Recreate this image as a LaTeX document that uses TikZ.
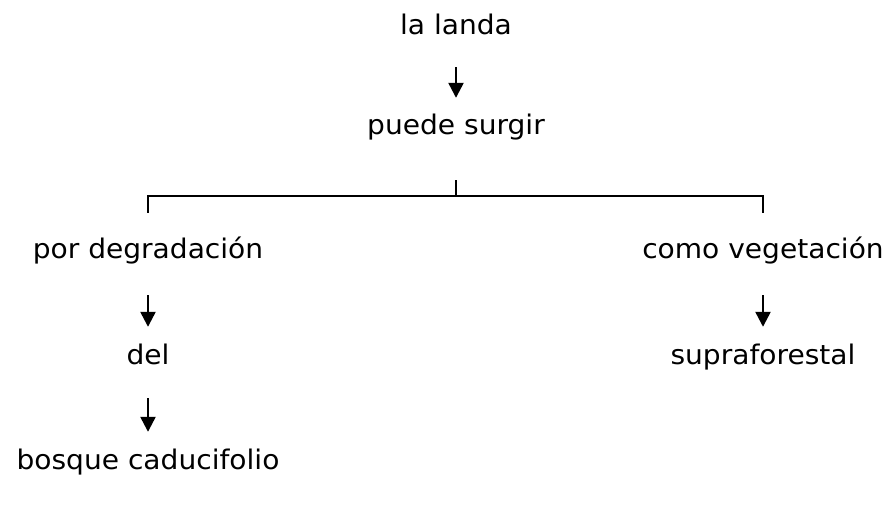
\documentclass[tikz,border=0pt]{standalone}
\usepackage{fontspec}
\setmainfont[FakeStretch=1.04]{DejaVu Sans}
\usetikzlibrary{arrows.meta,calc}
\begin{document}
\begin{tikzpicture}[x=1pt,y=-1pt,
  lbl/.style={inner sep=0pt,text height=20pt,text depth=6pt,font=\fontsize{27}{31}\selectfont},
  conn/.style={line width=2.4pt},
  arr/.style={conn,-{Triangle[width=15pt,length=15pt]}}]
\useasboundingbox (0,0) rectangle (890,505);
\node[lbl] (la) at (456,28) {la landa};
\node[lbl] (ps) at (456,128) {puede surgir};
\node[lbl] (pd) at (148,251) {por degradación};
\node[lbl] (de) at (148,357) {del};
\node[lbl] (bc) at (148,462) {bosque caducifolio};
\node[lbl] (cv) at (763,251) {como vegetación};
\node[lbl] (sf) at (763,357) {supraforestal};
\draw[arr,shorten <=26pt,shorten >=17pt] (la) -- (ps);
\draw[arr,shorten <=31pt,shorten >=17pt] (pd) -- (de);
\draw[arr,shorten <=28pt,shorten >=17pt] (de) -- (bc);
\draw[arr,shorten <=31pt,shorten >=17pt] (cv) -- (sf);
\coordinate (top) at ($(ps.south)+(0,39)$);
\coordinate (mid) at ($(ps.south)+(0,55)$);
\coordinate (le) at ($(pd.north)+(0,-25)$);
\coordinate (re) at ($(cv.north)+(0,-25)$);
\draw[conn] (top) -- (mid);
\draw[conn] (le) |- (mid) -| (re);
\end{tikzpicture}
\end{document}
